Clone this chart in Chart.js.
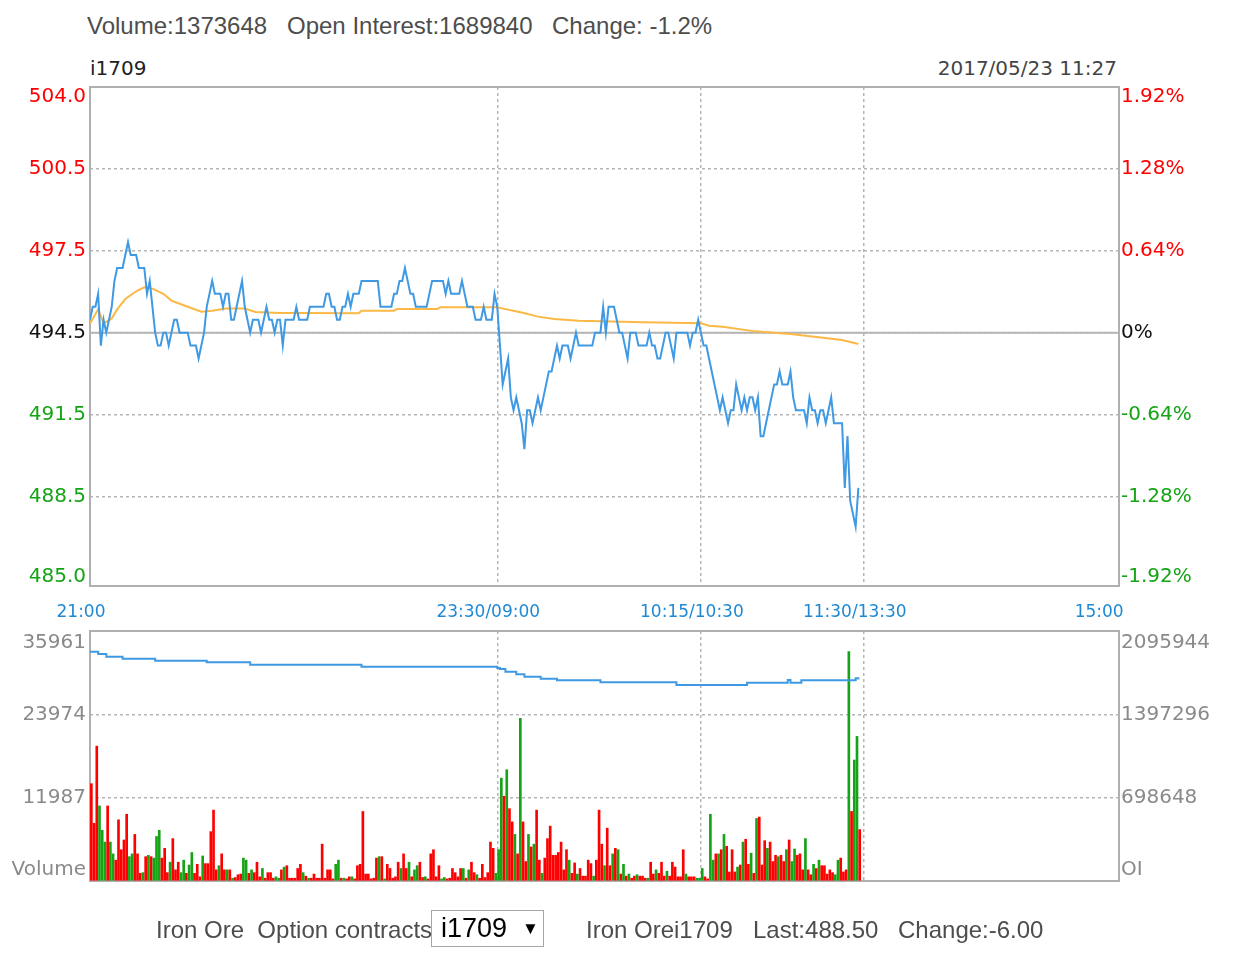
<!DOCTYPE html>
<html>
<head>
<meta charset="utf-8">
<title>i1709</title>
<script src="https://cdn.jsdelivr.net/npm/chart.js@4.4.1/dist/chart.umd.min.js"></script>
<style>
  html, body { margin: 0; padding: 0; background: #fff; }
  body { width: 1233px; height: 958px; position: relative; overflow: hidden; font-family: "Liberation Sans", Arial, sans-serif; }
  .txt { position: absolute; white-space: pre; color: #4d4d4d; font-size: 24px; line-height: 24px; }
  .small { font-family: "DejaVu Sans", sans-serif; font-size: 20px; line-height: 20px; }
  #priceWrap { position: absolute; left: 0; top: 0; }
  #volWrap { position: absolute; left: 0; top: 590px; }
  #contract { position: absolute; left: 431px; top: 910px; width: 113px; height: 37px; box-sizing: border-box;
              border: 1px solid #a6a6a6; color: #000; font-size: 27px; line-height: 35px; padding-left: 9px; white-space: pre; background: #fff; }
  #contract span { font-size: 17px; vertical-align: 3px; }
</style>
</head>
<body>
<div class="txt" style="left:87px; top:14px;">Volume:1373648</div>
<div class="txt" style="left:287px; top:14px;">Open Interest:1689840</div>
<div class="txt" style="left:552px; top:14px;">Change: -1.2%</div>

<div class="txt small" style="left:90px; top:58px; color:#222;">i1709</div>
<div class="txt small" style="right:116px; top:58px; color:#444;">2017/05/23 11:27</div>

<div id="priceWrap"><canvas id="priceChart" width="1233" height="630"></canvas></div>
<div id="volWrap"><canvas id="volChart" width="1233" height="330"></canvas></div>

<div class="txt" style="left:156px; top:918px;">Iron Ore  Option contracts</div>
<div id="contract">i1709  <span>▼</span></div>
<div class="txt" style="left:586px; top:918px;">Iron Orei1709</div>
<div class="txt" style="left:753px; top:918px;">Last:488.50</div>
<div class="txt" style="left:898px; top:918px;">Change:-6.00</div>

<script>
// time axis: minutes since 21:00 in trading time (night 150, morning 75 + 60, afternoon 90)
const timeTicks = [0, 150, 225, 285, 375];
const timeLabels = ['21:00', '23:30/09:00', '10:15/10:30', '11:30/13:30', '15:00'];

const prevClose = 494.5;
// percent grid positions; the lowest one sits on the bottom edge of the panel
const pctTicks = [-1.98, -1.28, -0.64, 0, 0.64, 1.28, 1.92];
const priceTickLabels = ['485.0', '488.5', '491.5', '494.5', '497.5', '500.5', '504.0'];
const pctTickLabels = ['-1.92%', '-1.28%', '-0.64%', '0%', '0.64%', '1.28%', '1.92%'];

const volTicks = [0, 11987, 23974, 35961];
const volTickLabels = ['Volume', '11987', '23974', '35961'];
const oiTicks = [0, 698648, 1397296, 2095944];
const oiTickLabels = ['OI', '698648', '1397296', '2095944'];

// last price, one per minute
const prices = [
  495.0, 495.5, 495.5, 496.0, 494.0, 495.0, 494.5, 495.0, 495.5, 496.5,
  497.0, 497.0, 497.0, 497.5, 498.0, 497.5, 497.5, 497.5, 497.0, 497.0,
  497.0, 496.0, 496.5, 495.5, 494.5, 494.0, 494.0, 494.5, 494.5, 494.0,
  494.5, 495.0, 495.0, 494.5, 494.5, 494.5, 494.5, 494.0, 494.0, 494.0,
  493.5, 494.0, 494.5, 495.5, 496.0, 496.5, 496.0, 496.0, 496.0, 495.5,
  496.0, 496.0, 495.0, 495.0, 495.5, 496.0, 496.5, 495.5, 495.0, 494.5,
  495.0, 495.0, 495.0, 494.5, 495.0, 495.5, 495.0, 495.0, 494.5, 495.0,
  495.0, 494.0, 495.0, 495.0, 495.0, 495.0, 495.5, 495.0, 495.0, 495.0,
  495.0, 495.5, 495.5, 495.5, 495.5, 495.5, 495.5, 496.0, 496.0, 495.5,
  495.5, 495.0, 495.0, 495.5, 495.5, 496.0, 495.5, 496.0, 496.0, 496.0,
  496.5, 496.5, 496.5, 496.5, 496.5, 496.5, 496.5, 495.5, 495.5, 495.5,
  495.5, 495.5, 496.0, 496.0, 496.5, 496.5, 497.0, 496.5, 496.0, 496.0,
  495.5, 495.5, 495.5, 495.5, 495.5, 496.0, 496.5, 496.5, 496.5, 496.5,
  496.5, 496.0, 496.5, 496.0, 496.0, 496.0, 496.0, 496.5, 496.0, 495.5,
  495.5, 495.5, 495.0, 495.0, 495.0, 495.5, 495.0, 495.0, 495.0, 496.0,
  495.5, 494.0, 492.5, 493.0, 493.5, 492.0, 491.5, 492.0, 491.5, 491.0,
  490.0, 491.5, 491.5, 491.0, 491.5, 492.0, 491.5, 492.0, 492.5, 493.0,
  493.0, 493.5, 494.0, 493.5, 494.0, 494.0, 494.0, 493.5, 494.0, 494.5,
  494.0, 494.0, 494.0, 494.0, 494.0, 494.0, 494.5, 494.5, 494.5, 495.5,
  494.5, 495.5, 495.5, 495.5, 495.0, 494.5, 494.5, 494.0, 493.5, 494.5,
  494.5, 494.5, 494.0, 494.0, 494.0, 494.0, 494.5, 494.0, 494.0, 493.5,
  493.5, 494.0, 494.5, 494.5, 494.0, 493.5, 494.5, 494.5, 494.5, 494.5,
  494.5, 494.0, 494.5, 494.5, 495.0, 494.5, 494.0, 494.0, 493.5, 493.0,
  492.5, 492.0, 491.5, 492.0, 491.5, 491.0, 491.5, 491.5, 492.5, 492.0,
  491.5, 492.0, 491.5, 492.0, 492.0, 491.5, 492.0, 490.5, 490.5, 491.0,
  491.5, 492.0, 492.5, 492.5, 493.0, 492.5, 492.5, 492.5, 493.0, 492.0,
  491.5, 491.5, 491.5, 491.5, 491.0, 492.0, 491.5, 491.5, 491.0, 491.5,
  491.5, 491.0, 491.5, 492.0, 491.0, 491.0, 491.0, 491.0, 488.5, 490.5,
  488.0, 487.5, 487.0, 488.5
];

// average price line, read at these minutes
const avgMinutes = [0, 3, 5, 8, 10, 13, 17, 20, 23, 27, 30, 35, 41, 45, 50, 57, 61, 70, 77, 99,
  100, 112, 113, 128, 129, 150, 153, 159, 165, 171, 180, 204, 225, 228, 233, 245, 258, 270, 277, 283];
const avgPrices = [494.85, 495.4, 494.85, 495.05, 495.4, 495.8, 496.1, 496.25, 496.2, 496.0, 495.74, 495.54, 495.31, 495.35, 495.43, 495.43, 495.3, 495.26, 495.26, 495.25,
  495.35, 495.35, 495.41, 495.41, 495.48, 495.48, 495.41, 495.28, 495.12, 495.03, 494.96, 494.9, 494.86, 494.77, 494.73, 494.55, 494.45, 494.3, 494.22, 494.06];

// volume per minute, R = red bar, G = green bar
const volume = [
  14000, 8300, 19400, 10800, 7300, 5600, 10800, 5600, 3900, 3000,
  8800, 4500, 5900, 9600, 3500, 3900, 6700, 3900, 1100, 1200,
  3500, 3700, 3500, 3300, 6400, 7300, 3300, 4700, 1200, 2700,
  6100, 1600, 2700, 1200, 3000, 1100, 2300, 4100, 1100, 2400,
  600, 3600, 2500, 2500, 7100, 10200, 1600, 2200, 3900, 1600,
  1600, 1600, 400, 500, 900, 1000, 3300, 3000, 1100, 1600,
  1200, 2700, 600, 1800, 400, 1200, 1200, 400, 600, 400,
  1600, 2000, 2200, 400, 400, 400, 1800, 2400, 1200, 700,
  400, 400, 1000, 400, 400, 5300, 400, 1600, 1600, 300,
  2400, 3000, 400, 400, 300, 600, 600, 300, 2200, 2400,
  10000, 1000, 1000, 300, 400, 3300, 3500, 3500, 300, 2400,
  1800, 400, 600, 2700, 1800, 3900, 1800, 2700, 600, 1600,
  2200, 2700, 500, 600, 300, 3900, 4500, 600, 2200, 300,
  500, 300, 400, 1800, 1200, 600, 1800, 1800, 400, 1600,
  2700, 1200, 900, 400, 2400, 500, 1200, 5600, 4700, 1100,
  4500, 14800, 12200, 16000, 10400, 8500, 6700, 3900, 23400, 8500,
  2800, 6700, 4900, 5300, 10200, 3000, 1100, 3300, 6100, 7900,
  3700, 3700, 4100, 5600, 1600, 4500, 3000, 1100, 2600, 1000,
  1800, 700, 700, 3000, 2500, 700, 3000, 10200, 5300, 2200,
  7600, 2200, 3900, 4700, 4500, 1000, 2400, 700, 1000, 400,
  700, 900, 700, 700, 400, 400, 2700, 1000, 1600, 1100,
  2700, 700, 1400, 700, 2700, 2000, 600, 600, 4500, 1000,
  600, 600, 600, 400, 400, 1800, 600, 300, 9600, 3000,
  3900, 3900, 4500, 6700, 5000, 1300, 4500, 1300, 2000, 2300,
  5600, 6000, 2400, 4000, 1100, 9000, 9200, 2300, 5800, 4700,
  5600, 2800, 3700, 3500, 3700, 2800, 4500, 5900, 2800, 4600,
  3700, 3900, 1600, 6100, 1600, 900, 2400, 1800, 3000, 2200,
  2200, 1000, 1600, 1200, 900, 3000, 3300, 1300, 1600, 33000,
  10000, 17400, 20800, 7400
];
const volDir = (
  'RRRGGGRGGR' + 'RRRRGGRRRG' + 'RGRGGGRRRG' + 'RRRGGRGGRR' + 'RGRRRRRGRR' +
  'GRGRRRGGRG' + 'RRRGRRRRGG' + 'RGRRRRRRGR' + 'GRRRRRRRRR' + 'GGRGRRGRRR' +
  'RRRRRRGRGR' + 'RRRRGRRGRG' + 'GRRGRRRRRG' + 'GRRRRRRGRG' + 'RRGRRRRRRG' +
  'GGRGRRGRGR' + 'RGRGRRGRRR' + 'RRRRRRGRRG' + 'RRRRRGRRRG' + 'RRGRGRGRGR' +
  'RGRRRGRRGR' + 'RRGRRRRRRG' + 'RRRGGGRRGG' + 'RGRGRRRRGR' + 'GRRGRGRRRG' +
  'RRRGRRGRGG' + 'RRRGRRGRGR' + 'RRRRGGRRRG' + 'RGGR'
).split('');

// open interest, value changes at these minutes
const oiMinutes = [0, 3, 6, 12, 24, 43, 59, 100, 150, 151, 153, 157, 160, 166, 172, 188, 216, 242, 257, 258, 262, 282, 283];
const oiValues = [1922000, 1903000, 1880000, 1863000, 1847000, 1833000, 1813000, 1796000, 1785000, 1777000, 1755000, 1733000,
  1713000, 1696000, 1683000, 1666000, 1643000, 1663000, 1686000, 1663000, 1683000, 1699000, 1689840];

const RED = '#ff0000';
const GREEN = '#16a316';
const BLUE = '#3f99e3';
const GRID = '#b5b5b5';
const X_MAX = 379;

Chart.defaults.font.family = 'DejaVu Sans';

const frame = {
  id: 'frame',
  beforeDatasetsDraw(chart) {
    const a = chart.chartArea;
    const ctx = chart.ctx;
    ctx.save();
    ctx.strokeStyle = '#b0b0b0';
    ctx.lineWidth = 2;
    ctx.strokeRect(a.left, a.top, a.right - a.left, a.bottom - a.top);
    ctx.restore();
  }
};

// top and bottom labels sit inside the frame
function edgeLabel(text, i, n) {
  if (i === n - 1) return ['', text];
  if (i === 0) return [text, ''];
  return text;
}

function setTicks(values) {
  return function (scale) { scale.ticks = values.map(v => ({ value: v })); };
}

function timeAxis(showLabels) {
  return {
    type: 'linear', min: 0, max: X_MAX, offset: false,
    afterBuildTicks: setTicks(timeTicks),
    afterFit: s => { s.height = showLabels ? 44 : 0; },
    ticks: {
      display: showLabels, autoSkip: false, maxRotation: 0,
      callback: (v, i) => timeLabels[i],
      color: '#1f89d4', font: { size: 17 }, padding: 16, labelOffset: -9
    },
    grid: {
      offset: false, drawTicks: false, lineWidth: 1.5,
      color: c => (c.index === 0 || c.index === timeTicks.length - 1) ? 'rgba(0,0,0,0)' : GRID
    },
    border: { display: false, dash: [3, 3] }
  };
}

function priceColor(i) {
  return i < 3 ? GREEN : (i === 3 ? '#111' : RED);
}

const toPrice = p => prevClose * (1 + p / 100);

new Chart(document.getElementById('priceChart'), {
  type: 'line',
  data: {
    datasets: [
      { data: prices.map((p, i) => ({ x: i, y: p })), borderColor: BLUE, borderWidth: 2, pointRadius: 0, tension: 0, yAxisID: 'y' },
      { data: avgMinutes.map((m, i) => ({ x: m, y: avgPrices[i] })), borderColor: '#fbb845', borderWidth: 2, pointRadius: 0, tension: 0, yAxisID: 'y' },
      { data: [{ x: 0, y: prevClose }, { x: X_MAX, y: prevClose }], borderColor: '#b4b4b4', borderWidth: 2, pointRadius: 0, yAxisID: 'y' }
    ]
  },
  options: {
    responsive: false, animation: false, events: [],
    layout: { padding: { top: 87, left: 0, right: 0, bottom: 0 } },
    plugins: { legend: { display: false }, tooltip: { enabled: false } },
    scales: {
      x: timeAxis(true),
      y: {
        position: 'left',
        min: toPrice(pctTicks[0]),
        max: toPrice(pctTicks[pctTicks.length - 1]),
        afterBuildTicks: setTicks(pctTicks.map(toPrice)),
        afterFit: s => { s.width = 90; },
        ticks: {
          autoSkip: false, padding: 4,
          callback: (v, i) => edgeLabel(priceTickLabels[i], i, priceTickLabels.length),
          color: c => priceColor(c.index),
          font: { size: 20, lineHeight: 0.95 }
        },
        grid: { drawTicks: false, color: GRID, lineWidth: 1.5 },
        border: { display: false, dash: [3, 3] }
      },
      yPct: {
        position: 'right', min: pctTicks[0], max: pctTicks[pctTicks.length - 1],
        afterBuildTicks: setTicks(pctTicks),
        afterFit: s => { s.width = 114; },
        ticks: {
          autoSkip: false, padding: 2,
          callback: (v, i) => edgeLabel(pctTickLabels[i], i, pctTickLabels.length),
          color: c => priceColor(c.index),
          font: { size: 20, lineHeight: 0.95 }
        },
        grid: { display: false, drawTicks: false },
        border: { display: false }
      }
    }
  },
  plugins: [frame]
});

new Chart(document.getElementById('volChart'), {
  type: 'bar',
  data: {
    datasets: [
      { type: 'line', data: oiMinutes.map((m, i) => ({ x: m, y: oiValues[i] })), yAxisID: 'yOI', stepped: true,
        borderColor: BLUE, borderWidth: 2, pointRadius: 0 },
      { type: 'bar', data: volume.map((v, i) => ({ x: i + 0.5, y: v })), yAxisID: 'yVol',
        backgroundColor: c => volDir[c.dataIndex] === 'R' ? RED : GREEN, barThickness: 2, grouped: false }
    ]
  },
  options: {
    responsive: false, animation: false, events: [],
    layout: { padding: { top: 41, left: 0, right: 0, bottom: 39 } },
    plugins: { legend: { display: false }, tooltip: { enabled: false } },
    scales: {
      x: timeAxis(false),
      yVol: {
        position: 'left', min: 0, max: volTicks[volTicks.length - 1],
        afterBuildTicks: setTicks(volTicks),
        afterFit: s => { s.width = 90; },
        ticks: {
          autoSkip: false, padding: 4,
          callback: (v, i) => edgeLabel(volTickLabels[i], i, volTickLabels.length),
          color: '#8a8a8a', font: { size: 20, lineHeight: 1.15 }
        },
        grid: { drawTicks: false, color: GRID, lineWidth: 1.5 },
        border: { display: false, dash: [3, 3] }
      },
      yOI: {
        position: 'right', min: 0, max: oiTicks[oiTicks.length - 1],
        afterBuildTicks: setTicks(oiTicks),
        afterFit: s => { s.width = 114; },
        ticks: {
          autoSkip: false, padding: 2,
          callback: (v, i) => edgeLabel(oiTickLabels[i], i, oiTickLabels.length),
          color: '#8a8a8a', font: { size: 20, lineHeight: 1.15 }
        },
        grid: { display: false, drawTicks: false },
        border: { display: false }
      }
    }
  },
  plugins: [frame]
});
</script>
</body>
</html>
